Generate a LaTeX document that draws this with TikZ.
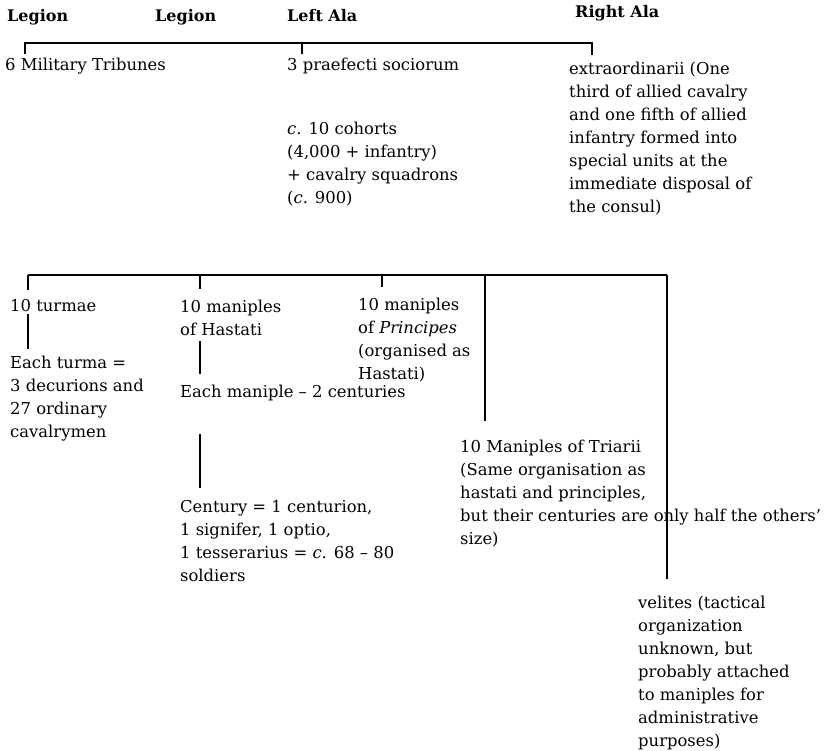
\documentclass[tikz,border=0pt]{standalone}
\usepackage{fontspec}
\setmainfont{DejaVu Serif}
\usepackage{tikz}

\begin{document}
\begin{tikzpicture}[x=1pt, y=-1pt,
	lbl/.style={anchor=base west, inner sep=0pt, align=left, font=\fontsize{16.4}{23}\selectfont},
	head/.style={lbl, font=\fontsize{16}{23}\selectfont\bfseries},
	link/.style={line width=2.4pt}]
	\useasboundingbox (0,0) rectangle (827,751);
% headings
	\node[head] (legA) at (7,22) {Legion};
	\node[head] (legB) at (155,22) {Legion};
	\node[head] (alaL) at (287,22) {Left Ala};
	\node[head] (alaR) at (575,18) {Right Ala};
% first row (multi-line nodes sit on their last baseline)
	\node[lbl] (tribunes) at (5,71) {6 Military Tribunes};
	\node[lbl] (praefecti) at (287,71) {3 praefecti sociorum};
	\node[lbl] (cohorts) at (287,204) {\textit{c.} 10 cohorts\\(4,000 + infantry)\\+ cavalry squadrons\\(\textit{c.} 900)};
	\node[lbl] (extra) at (569,213) {extraordinarii (One\\third of allied cavalry\\and one fifth of allied\\infantry formed into\\special units at the\\immediate disposal of\\the consul)};
% second row
	\node[lbl] (turmae) at (10,312) {10 turmae};
	\node[lbl] (turma) at (10,437) {Each turma =\\3 decurions and\\27 ordinary\\cavalrymen};
	\node[lbl] (hastati) at (180,335) {10 maniples\\of Hastati};
	\node[lbl] (maniple) at (180,397) {Each maniple -- 2 centuries};
	\node[lbl] (century) at (180,581) {Century = 1 centurion,\\1 signifer, 1 optio,\\1 tesserarius = \textit{c.} 68 -- 80\\soldiers};
	\node[lbl] (principes) at (358,379) {10 maniples\\of \textit{Principes}\\(organised as\\Hastati)};
	\node[lbl] (triarii) at (460,544) {10 Maniples of Triarii\\(Same organisation as\\hastati and principles,\\but their centuries are only half the others’\\size)};
	\node[lbl] (velites) at (638,746) {velites (tactical\\organization\\unknown, but\\probably attached\\to maniples for\\administrative\\purposes)};
% top bracket
	\coordinate (topL) at (25,43);
	\coordinate (topM) at (302,43);
	\coordinate (topR) at (592,43);
	\draw[link] (topL |- tribunes.north) ++(0,-4) -- (topL) -- (topR) -- ++(0,12);
	\draw[link, shorten >=4pt] (topM) -- (topM |- praefecti.north);
% lower bracket
	\coordinate (midL) at (28,275);
	\coordinate (midB) at (200,275);
	\coordinate (midC) at (382,275);
	\coordinate (midD) at (485,275);
	\coordinate (midR) at (667,275);
	\draw[link] (midL) -- (midR);
	\draw[link, shorten >=10pt] (midL) -- (midL |- turmae.north);
	\draw[link, shorten >=10pt] (midB) -- (midB |- hastati.north);
	\draw[link, shorten >=10pt] (midC) -- (midC |- principes.north);
	\draw[link, shorten >=18pt] (midD) -- (midD |- triarii.north);
	\draw[link, shorten >=16pt] (midR) -- (midR |- velites.north);
% links inside the legion
	\draw[link, shorten <=2pt, shorten >=6pt] (midL |- turmae.south) -- (midL |- turma.north);
	\draw[link, shorten <=6pt, shorten >=10pt] (midB |- hastati.south) -- (midB |- maniple.north);
	\draw[link, shorten <=33pt, shorten >=12pt] (midB |- maniple.south) -- (midB |- century.north);
\end{tikzpicture}
\end{document}
